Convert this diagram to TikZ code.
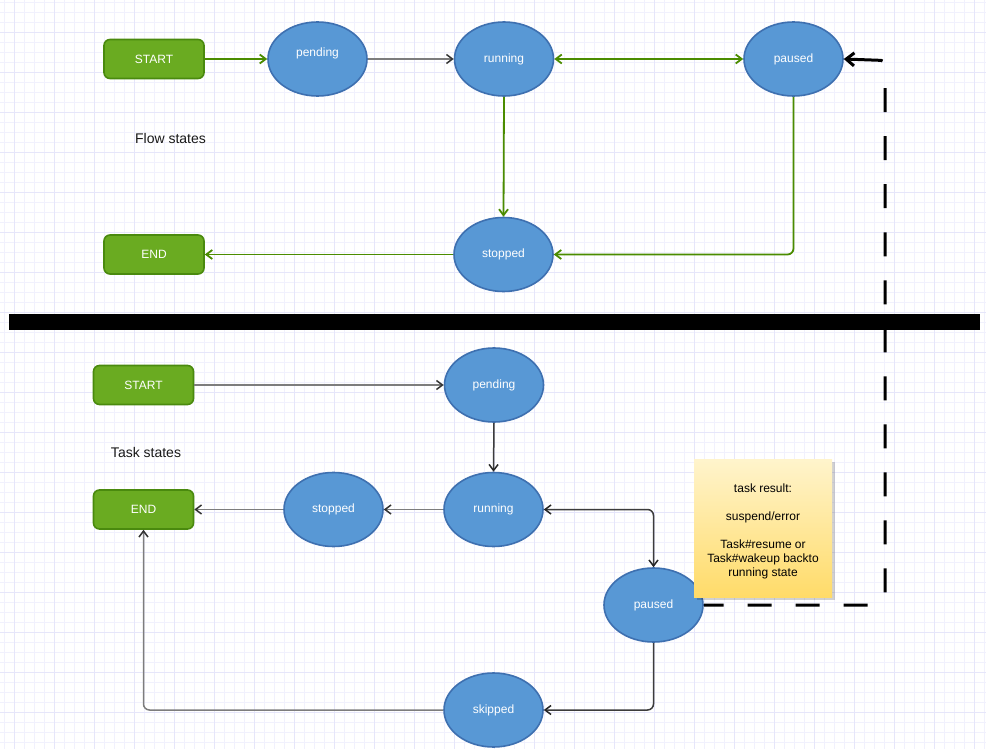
\documentclass[tikz,border=0pt]{standalone}
\usepackage{fontspec}
\setmainfont{Liberation Sans}
\usetikzlibrary{arrows.meta,shapes.geometric}
\definecolor{gridminor}{RGB}{241,241,253}
\definecolor{gridmajor}{RGB}{230,230,250}
\definecolor{ellfill}{RGB}{88,152,213}
\definecolor{ellstroke}{RGB}{62,112,176}
\definecolor{grfill}{RGB}{106,171,33}
\definecolor{grstroke}{RGB}{74,138,14}
\definecolor{gline}{RGB}{75,140,0}
\definecolor{kline}{RGB}{125,125,125}
\definecolor{dline}{RGB}{60,60,60}
\definecolor{notetop}{RGB}{255,244,204}
\definecolor{notebot}{RGB}{255,219,105}
\begin{document}
\begin{tikzpicture}[x=1pt,y=-1pt,
  every node/.style={font=\fontsize{12}{14}\selectfont},
  state/.style={ellipse, draw=ellstroke, fill=ellfill, line width=1.6pt,
    minimum width=99pt, minimum height=74pt, inner sep=0pt, text=white},
  term/.style={rectangle, rounded corners=6pt, draw=grstroke, fill=grfill, line width=1.6pt,
    minimum width=100pt, minimum height=39pt, inner sep=0pt, text=white},
  gedge/.style={draw=gline, line width=1.8pt, rounded corners=6pt,
    -{Straight Barb[length=6pt,width=9pt]}},
  gedgeb/.style={draw=gline, line width=1.8pt, rounded corners=6pt,
    {Straight Barb[length=6pt,width=9pt]}-{Straight Barb[length=6pt,width=9pt]}},
  kedge/.style={draw=kline, line width=1.5pt, rounded corners=6pt,
    -{Straight Barb[length=6pt,width=9pt,color=black!80]}},
  dedge/.style={draw=dline, line width=1.5pt, rounded corners=6pt,
    -{Straight Barb[length=6pt,width=9pt,color=black!85]}},
  dedgeb/.style={draw=dline, line width=1.5pt, rounded corners=6pt,
    {Straight Barb[length=6pt,width=9pt,color=black!85]}-{Straight Barb[length=6pt,width=9pt,color=black!85]}},
  dashedge/.style={draw=black, line width=3pt, rounded corners=4pt,
    dash pattern=on 35pt off 28.3pt on 24pt off 24pt on 24pt off 24pt on 24pt off 24pt
      on 24pt off 24pt on 24pt off 24pt on 24pt off 24pt on 24pt off 24pt on 24pt off 24pt
      on 24pt off 24pt on 24pt off 24pt on 24pt off 28.2pt on 24pt off 24pt on 24pt off 24pt
      on 24pt off 24pt on 24pt off 10pt,
    {Straight Barb[length=8pt,width=13pt]}-},
  caption/.style={text=black!90}
]
\useasboundingbox (0,0) rectangle (986,749);
\fill[white] (0,0) rectangle (986,749);
% grid
\foreach \i in {0,...,98} \draw[gridminor, line width=1pt] ({4.3+10*\i},0) -- ({4.3+10*\i},749);
\foreach \j in {0,...,74} \draw[gridminor, line width=1pt] (0,{2.7+10*\j}) -- (986,{2.7+10*\j});
\foreach \i in {0,...,24} \draw[gridmajor, line width=1pt] ({14.3+40*\i},0) -- ({14.3+40*\i},749);
\foreach \j in {0,...,17} \draw[gridmajor, line width=1pt] (0,{32.7+40*\j}) -- (986,{32.7+40*\j});

% ---------- Flow states ----------
\node[term] (start) at (154,59) {START};
\node[state] (pending) at (317.5,59) {};
\node[text=white] (pendinglabel) at (317.5,53) {pending};
\node[state] (running) at (504,59) {running};
\node[state] (paused) at (793.5,59) {paused};
\node[state] (stopped) at (503.5,254.5) {stopped};
\node[term] (end) at (154,254.5) {END};
\node[caption, font=\fontsize{14}{16}\selectfont] (flowcap) at (170.5,138) {Flow states};

\draw[gedge] (start.east) -- (pending.west);
\draw[kedge] (pending.east) -- (running.west);
\draw[gedgeb] (running.east) -- (paused.west);
\draw[gedge] (running.south) -- (stopped.north);
\draw[gedge] (paused.south) |- (stopped.east);
\draw[gedge] (stopped.west) -- (end.east);

% ---------- Task states ----------
\node[term] (start2) at (143.5,385) {START};
\node[state] (pending2) at (494,385) {pending};
\node[state] (running2) at (493.5,509.5) {running};
\node[state] (stopped2) at (333.5,509.5) {stopped};
\node[term] (end2) at (143.5,509.5) {END};
\node[state] (paused2) at (653.5,605) {paused};
\node[state] (skipped) at (493.5,710) {skipped};
\node[caption, font=\fontsize{14}{16}\selectfont] (taskcap) at (146,452) {Task states};

% note
\fill[black, opacity=0.18] (697,462) rectangle (835,600);
\shade[top color=notetop, bottom color=notebot] (694,459) rectangle (832,597);
\node[align=center, text=black, font=\fontsize{12}{14}\selectfont] (notetext) at (763,531)
  {task result:\\[14pt]suspend/error\\[14pt]Task\#resume or\\Task\#wakeup backto\\running state};

\draw[kedge] (start2.east) -- (pending2.west);
\draw[dedge] (pending2.south) -- (running2.north);
\draw[kedge] (running2.west) -- (stopped2.east);
\draw[kedge] (stopped2.west) -- (end2.east);
\draw[dedgeb] (running2.east) -| (paused2.north);
\draw[dedge] (paused2.south) |- (skipped.east);
\draw[kedge] (skipped.west) -| (end2.south);

% dashed feedback connector
\coordinate (dtop) at (885,60.5);
\coordinate (dbot) at (885,605);
\draw[dashedge] (paused.east) -- (dtop) -- (dbot) -- (paused2.east);

% separator bar
\fill[black] (9,314) rectangle (980,330);
\end{tikzpicture}
\end{document}
